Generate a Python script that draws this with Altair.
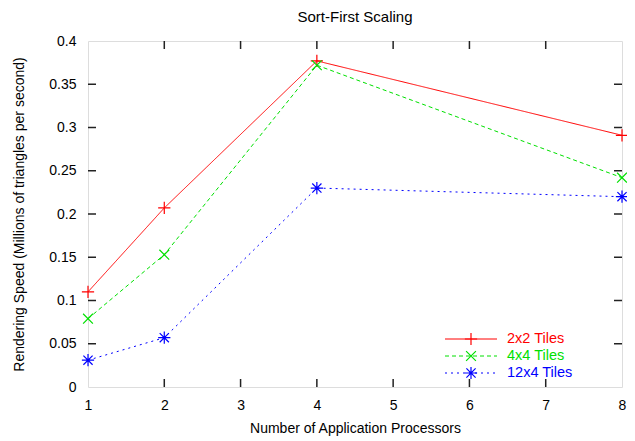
import altair as alt
import pandas as pd

processors = [1, 2, 4, 8]
tiles_2x2 = [0.110, 0.207, 0.377, 0.291]
tiles_4x4 = [0.079, 0.153, 0.372, 0.242]
tiles_12x4 = [0.031, 0.057, 0.230, 0.220]
series_names = ["2x2 Tiles", "4x4 Tiles", "12x4 Tiles"]
series_colors = ["#ff0000", "#00e000", "#0000ff"]
x_ticks = [1, 2, 3, 4, 5, 6, 7, 8]
y_ticks = [0, 0.05, 0.1, 0.15, 0.2, 0.25, 0.3, 0.35, 0.4]

W, H = 534, 346
FONT = "Liberation Sans"

rows = []
for name, vals in zip(series_names, [tiles_2x2, tiles_4x4, tiles_12x4]):
    for p, v in zip(processors, vals):
        rows.append({"series": name, "p": p, "v": v})
df = pd.DataFrame(rows)

xs = alt.Scale(domain=[1, 8], nice=False, zero=False)
ys = alt.Scale(domain=[0, 0.4], nice=False)

PLUS = "M-1,0L1,0M0,-1L0,1"
CROSS = "M-0.8,-0.8L0.8,0.8M-0.8,0.8L0.8,-0.8"
STAR = "M-1,0L1,0M0,-1L0,1M-0.75,-0.75L0.75,0.75M-0.75,0.75L0.75,-0.75"
shapes = [PLUS, CROSS, STAR]
dashes = [[1, 0], [4, 3], [2, 4]]

base_x = alt.X("p:Q", scale=xs, axis=alt.Axis(values=x_ticks, title="Number of Application Processors",
                                             ticks=False, domain=False, grid=False, labelPadding=11,
                                             labelExpr="'' + datum.value", labelFlush=False,
                                             labelFontSize=14, titleFontSize=14, titleFontWeight="normal",
                                             labelFont=FONT, titleFont=FONT, titlePadding=9, labelColor="black",
                                             titleColor="black"))
base_y = alt.Y("v:Q", scale=ys, axis=alt.Axis(values=y_ticks, title="Rendering Speed (Millions of triangles per second)",
                                             ticks=False, domain=False, grid=False, labelPadding=12,
                                             labelExpr="'' + datum.value", labelFlush=False,
                                             labelFontSize=14, titleFontSize=14, titleFontWeight="normal",
                                             labelFont=FONT, titleFont=FONT, titlePadding=22, labelColor="black",
                                             titleColor="black"))

layers = []
for name, col, shp, dsh in zip(series_names, series_colors, shapes, dashes):
    sub = df[df.series == name]
    layers.append(alt.Chart(sub).mark_line(color=col, strokeWidth=1, strokeDash=dsh).encode(x=base_x, y=base_y))
    layers.append(alt.Chart(sub).mark_point(shape=shp, color=col, filled=False, size=150, strokeWidth=1.2,
                                           opacity=1).encode(x="p:Q", y="v:Q"))

# inward ticks (gnuplot style, mirrored)
ydf = pd.DataFrame({"v": y_ticks[1:-1]})
xdf = pd.DataFrame({"p": x_ticks[1:-1]})
tk = dict(color="#222222", strokeWidth=1.5)
layers.append(alt.Chart(ydf).mark_rule(**tk).encode(y="v:Q", x=alt.value(0), x2=alt.value(8)))
layers.append(alt.Chart(ydf).mark_rule(**tk).encode(y="v:Q", x=alt.value(W - 8), x2=alt.value(W)))
layers.append(alt.Chart(xdf).mark_rule(**tk).encode(x="p:Q", y=alt.value(H), y2=alt.value(H - 8)))
layers.append(alt.Chart(xdf).mark_rule(**tk).encode(x="p:Q", y=alt.value(0), y2=alt.value(8)))

# manual legend
leg_y = [339, 356, 373]
for i, (name, col, shp, dsh) in enumerate(zip(series_names, series_colors, shapes, dashes)):
    ld = pd.DataFrame({"label": [name]})
    ly = leg_y[i] - 41
    layers.append(alt.Chart(ld).mark_rule(color=col, strokeWidth=1, strokeDash=dsh).encode(
        x=alt.value(445 - 88), x2=alt.value(497 - 88), y=alt.value(ly)))
    layers.append(alt.Chart(ld).mark_point(shape=shp, color=col, filled=False, size=150, strokeWidth=1.2, opacity=1).encode(
        x=alt.value(471 - 88), y=alt.value(ly)))
    layers.append(alt.Chart(ld).mark_text(color=col, align="left", baseline="middle", font=FONT, fontSize=14.5).encode(
        text="label:N", x=alt.value(507 - 88), y=alt.value(ly)))

chart = alt.layer(*layers).properties(
    width=W, height=H,
    title=alt.TitleParams("Sort-First Scaling", font=FONT, fontSize=15, fontWeight="normal", color="black", offset=9),
    autosize=alt.AutoSizeParams(type="none"),
    padding={"left": 80, "top": 33, "right": 5, "bottom": 53},
).configure_view(stroke="black", strokeWidth=1.5).configure(background="white")

chart.save("out.html", embed_options={"renderer": "svg", "actions": False})
